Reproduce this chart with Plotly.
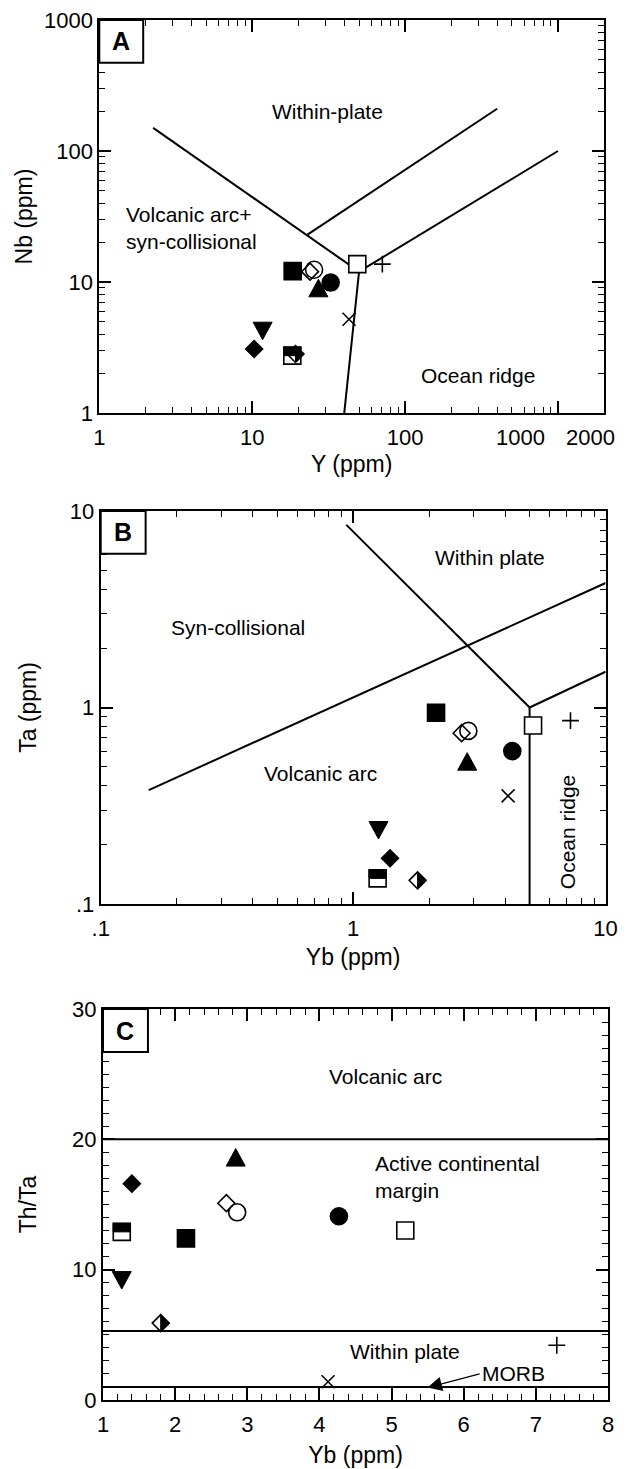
import numpy as np
import plotly.graph_objects as go

W, H = 644, 1469
FONT = "Liberation Sans, Arial, Helvetica, sans-serif"

# ---------------- data (12 samples, same order in every panel) ----------------
sample_names = ["S1", "S2", "S3", "S4", "S5", "S6", "S7", "S8", "S9", "S10", "S11", "S12"]

# Panel A : Nb vs Y (ppm)
A_Y = [18.4, 23.9, 25.4, 32.6, 27.1, 48.7, 71.0, 43.0, 11.7, 10.3, 18.3, 19.2]
A_Nb = [12.1, 12.0, 12.4, 9.9, 8.95, 13.7, 13.7, 5.2, 4.25, 3.08, 2.74, 2.82]

# Panel B : Ta vs Yb (ppm)
B_Yb = [2.13, 2.69, 2.86, 4.27, 2.83, 5.16, 7.26, 4.11, 1.26, 1.40, 1.25, 1.80]
B_Ta = [0.94, 0.74, 0.76, 0.60, 0.53, 0.81, 0.857, 0.355, 0.238, 0.171, 0.135, 0.132]

# Panel C : Th/Ta vs Yb (ppm)
C_Yb = [2.15, 2.71, 2.86, 4.27, 2.84, 5.19, 7.29, 4.12, 1.26, 1.40, 1.26, 1.80]
C_ThTa = [12.4, 15.1, 14.4, 14.1, 18.6, 13.0, 4.2, 1.4, 9.2, 16.6, 12.9, 5.9]

# discrimination boundaries
A_bound_Y = [[2.25, 50], [50, 40], [50, 1000], [23, 400]]
A_bound_Nb = [[150, 12], [12, 1], [12, 100], [23, 210]]
B_bound_Yb = [[0.155, 10], [0.94, 5], [5, 5], [5, 10]]
B_bound_Ta = [[0.38, 4.3], [8.5, 1], [1, 0.1], [1, 1.52]]
C_bound_Yb = [[1, 8], [1, 8], [1, 8]]
C_bound_ThTa = [[20, 20], [5.3, 5.3], [1.0, 1.0]]

# tick labels (the two crowded labels of panel A are set slightly apart, as in the original)
A_xticks = [1, 10, 100, 1000, 2000]
A_xtext = ["1", "10", "100", "", ""]
A_xcrowded = ["1000", "2000"]
A_xcrowded_at = [570, 1635]   # label centres (Y ppm)
A_yticks = [1, 10, 100, 1000]
A_ytext = ["1", "10", "100", "1000"]
B_ticks = [0.1, 1, 10]
B_text = [".1", "1", "10"]

# ---------------- marker styles (per sample) ----------------
sym = ["square", "diamond-open", "circle-open", "circle", "triangle-up", "square",
       "cross-thin", "x-thin", "triangle-down", "diamond", "square", "diamond"]
fill = ["black", "black", "black", "black", "black", "white",
        "black", "black", "black", "black", "white", "white"]
msize = [17, 13, 17, 17, 17, 17, 12, 13, 17, 13, 17, 13]
# glyph overlays drawn as pixel-sized shapes anchored on the data point
glyph = [None, None, None, None, "tri_up", None, None, None, "tri_down", None, "half_top", "half_right"]
GLYPH_PATH = {
    "tri_up": "M-9.5,-8.5 L9.5,-8.5 L0,9 Z",
    "tri_down": "M-9.5,8.5 L9.5,8.5 L0,-9 Z",
    "half_top": "M-8.5,0 L8.5,0 L8.5,8.5 L-8.5,8.5 Z",
    "half_right": "M0,8.45 L8.45,0 L0,-8.45 Z",
}

LW = 1.6

fig = go.Figure()


def add_points(xs, ys, xa, ya):
    for i in range(len(xs)):
        is_tri = glyph[i] in ("tri_up", "tri_down")
        fig.add_trace(go.Scatter(
            x=[xs[i]], y=[ys[i]], mode="markers", xaxis=xa, yaxis=ya,
            name=sample_names[i], showlegend=False, hoverinfo="x+y",
            marker=dict(symbol=sym[i], size=msize[i], color=fill[i], opacity=0 if is_tri else 1,
                        line=dict(color="black", width=LW))))
        if glyph[i]:
            fig.add_shape(type="path", xref=xa, yref=ya, xsizemode="pixel", ysizemode="pixel",
                          xanchor=xs[i], yanchor=ys[i], path=GLYPH_PATH[glyph[i]],
                          fillcolor="black", line=dict(color="black", width=1))


def add_bounds(bx, by, xa, ya):
    for xs, ys in zip(bx, by):
        fig.add_trace(go.Scatter(x=xs, y=ys, mode="lines", xaxis=xa, yaxis=ya,
                                 showlegend=False, hoverinfo="skip",
                                 line=dict(color="black", width=2)))


add_bounds(A_bound_Y, A_bound_Nb, "x", "y")
add_bounds(B_bound_Yb, B_bound_Ta, "x2", "y2")
add_bounds(C_bound_Yb, C_bound_ThTa, "x3", "y3")
add_points(A_Y, A_Nb, "x", "y")
add_points(B_Yb, B_Ta, "x2", "y2")
add_points(C_Yb, C_ThTa, "x3", "y3")


def minor_log(lo, hi):
    vals = []
    for d in range(lo, hi):
        for k in range(2, 10):
            vals.append(k * 10 ** d)
    return vals


TICKFONT = dict(family=FONT, size=22, color="black")
MINOR = dict(ticks="inside", ticklen=6, tickwidth=1.2, tickcolor="black", showgrid=False)
common = dict(showline=True, linecolor="black", linewidth=2, mirror="allticks",
              ticks="inside", ticklen=12, tickwidth=1.5, tickcolor="black",
              showgrid=False, zeroline=False, automargin=False, tickangle=0,
              tickfont=TICKFONT,
              title_font=dict(family=FONT, size=23, color="black"))


def px_x(a, b):
    return [a / W, b / W]


def px_y(top, bottom):
    return [1 - bottom / H, 1 - top / H]


fig.update_layout(
    template="none",
    width=W, height=H, margin=dict(l=0, r=0, t=0, b=0, pad=0),
    paper_bgcolor="white", plot_bgcolor="white", showlegend=False,
    xaxis=dict(common, type="log", domain=px_x(99.3, 604), range=[0, np.log10(2000)], anchor="y",
               tickvals=A_xticks, ticktext=A_xtext, ticklabelstandoff=4,
               minor=dict(MINOR, tickvals=minor_log(0, 4)),
               title=dict(text="Y (ppm)", standoff=6)),
    yaxis=dict(common, type="log", domain=px_y(20, 413), range=[0, 3], anchor="x",
               tickvals=A_yticks, ticktext=A_ytext,
               minor=dict(MINOR, tickvals=minor_log(0, 3)),
               title=dict(text="Nb (ppm)", standoff=5)),
    xaxis2=dict(common, type="log", domain=px_x(100.7, 605.6), range=[-1, 1], anchor="y2",
                tickvals=B_ticks, ticktext=B_text, ticklabelstandoff=4,
                minor=dict(MINOR, tickvals=minor_log(-1, 1)),
                title=dict(text="Yb (ppm)", standoff=8)),
    yaxis2=dict(common, type="log", domain=px_y(511, 904), range=[-1, 1], anchor="x2",
                tickvals=B_ticks, ticktext=B_text,
                minor=dict(MINOR, tickvals=minor_log(-1, 1)),
                title=dict(text="Ta (ppm)", standoff=27)),
    xaxis3=dict(common, domain=px_x(103, 608), range=[1, 8], anchor="y3", dtick=1, tick0=0,
                ticklabelstandoff=4,
                minor=dict(MINOR, dtick=0.2),
                title=dict(text="Yb (ppm)", standoff=10)),
    yaxis3=dict(common, domain=px_y(1009, 1400), range=[0, 30], anchor="x3", dtick=10, tick0=0,
                minor=dict(MINOR, dtick=1),
                title=dict(text="Th/Ta", standoff=29)),
)

# crowded tick labels of panel A x axis
for t, xv in zip(A_xcrowded, A_xcrowded_at):
    fig.add_annotation(xref="x", yref="y domain", x=np.log10(xv), y=0, yanchor="middle",
                       yshift=-24, text=t, showarrow=False, font=TICKFONT)

# ---------------- panel letters ----------------
for letter, xa, ya, bw, bh in [("A", "x", "y", 0.087, 0.109), ("B", "x2", "y2", 0.089, 0.109),
                               ("C", "x3", "y3", 0.089, 0.110)]:
    fig.add_shape(type="rect", xref=f"{xa} domain", yref=f"{ya} domain",
                  x0=0, x1=bw, y0=1 - bh, y1=1, line=dict(color="black", width=2), fillcolor="white")
    fig.add_annotation(xref=f"{xa} domain", yref=f"{ya} domain", x=bw / 2, y=1 - bh / 2,
                       xanchor="center", yanchor="middle",
                       text=f"<b>{letter}</b>", showarrow=False,
                       font=dict(family=FONT, size=25, color="black"))

# ---------------- field labels ----------------
RF = dict(family=FONT, size=21, color="black")
A_labels = [("Within-plate", 31, 200, "center"),
            ("Volcanic arc+<br>syn-collisional", 4.0, 25.8, "center"),
            ("Ocean ridge", 300, 1.95, "center")]
for t, xv, yv, anc in A_labels:
    fig.add_annotation(xref="x", yref="y", x=np.log10(xv), y=np.log10(yv), text=t, showarrow=False,
                       xanchor=anc, font=RF, align="left")

B_labels = [("Within plate", 3.48, 5.8, 0), ("Syn-collisional", 0.35, 2.54, 0),
            ("Volcanic arc", 0.74, 0.46, 0), ("Ocean ridge", 7.03, 0.232, -90)]
for t, xv, yv, ang in B_labels:
    fig.add_annotation(xref="x2", yref="y2", x=np.log10(xv), y=np.log10(yv), text=t, showarrow=False,
                       textangle=ang, font=RF)

C_labels = [("Volcanic arc", 4.91, 24.8, "center"),
            ("Active continental<br>margin", 4.74, 17.1, "left"),
            ("Within plate", 5.19, 3.7, "center")]
for t, xv, yv, anc in C_labels:
    fig.add_annotation(xref="x3", yref="y3", x=xv, y=yv, text=t, showarrow=False,
                       xanchor=anc, align="left", font=RF)

# MORB arrow
fig.add_annotation(xref="x3", yref="y3", axref="x3", ayref="y3", x=5.5, y=0.95, ax=6.22, ay=2.0,
                   text="MORB", xanchor="left", showarrow=True, arrowhead=2, arrowsize=2.2,
                   arrowwidth=1.3, arrowcolor="black", font=RF)

fig.write_html("out.html")
